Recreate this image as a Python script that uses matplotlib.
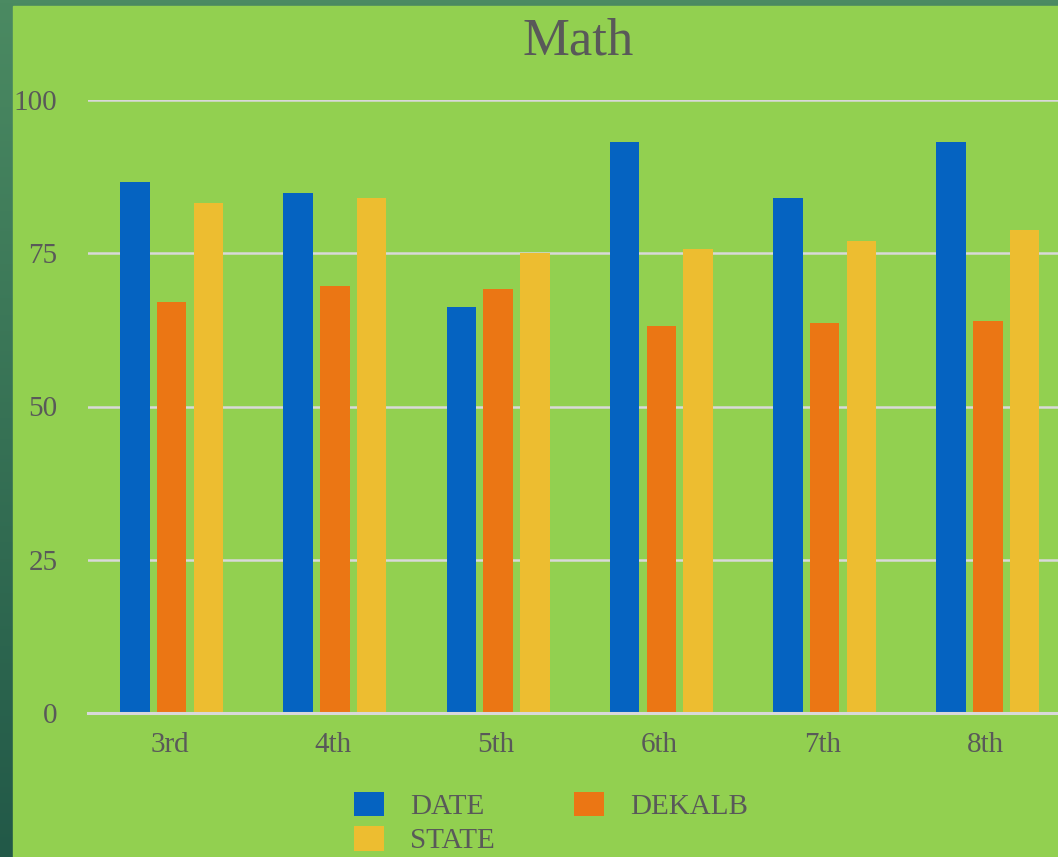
import numpy as np
import matplotlib.pyplot as plt
from matplotlib.patches import Rectangle

grades = ['3rd', '4th', '5th', '6th', '7th', '8th']
date_scores = [86.6, 84.8, 66.2, 93.1, 84.0, 93.1]
dekalb_scores = [67.0, 69.7, 69.2, 63.1, 63.6, 63.9]
state_scores = [83.2, 84.0, 75.0, 75.7, 77.0, 78.8]
series_names = ['DATE', 'DEKALB', 'STATE']
y_ticks = [0, 25, 50, 75, 100]

colors = ['#0563C1', '#EB7614', '#EDBD30']
text_color = '#595959'
grid_color = '#D9D9D9'
panel_color = '#92D050'

plt.rcParams['font.family'] = ['Liberation Serif', 'DejaVu Serif']

W, H = 1058, 857
fig = plt.figure(figsize=(W / 100, H / 100), dpi=100)

# slide background: dark green gradient behind the chart panel
bg = fig.add_axes([0, 0, 1, 1], zorder=-10)
grad = np.linspace(0, 1, 256).reshape(-1, 1)
top = np.array([0x4B, 0x8A, 0x62]) / 255
bottom = np.array([0x22, 0x59, 0x48]) / 255
img = top + (bottom - top) * grad[..., None]
bg.imshow(img, aspect='auto', extent=[0, 1, 0, 1])
bg.add_patch(Rectangle((13 / W, 0), 1, 1 - 6 / H, color=panel_color))
bg.set_xlim(0, 1)
bg.set_ylim(0, 1)
bg.axis('off')

left = 88 / W
right = 1067.5 / W
y0 = 713
y100 = 100
ax = fig.add_axes([left, (H - y0) / H, right - left, (y0 - y100) / H])
ax.set_facecolor('none')

x = np.arange(len(grades))
width = 0.18
offsets = [-0.213, 0.012, 0.237]
for vals, off, c, name in zip([date_scores, dekalb_scores, state_scores],
                              offsets, colors, series_names):
    ax.bar(x + off, vals, width, color=c, label=name, zorder=3)

ax.set_xlim(-0.5, len(grades) - 0.5)
ax.set_ylim(0, 100)
ax.set_yticks(y_ticks)
ax.set_xticks(x)
ax.set_xticklabels(grades)
ax.yaxis.grid(True, color=grid_color, linewidth=1.8, zorder=0)
ax.set_axisbelow(True)
for s in ax.spines.values():
    s.set_visible(False)
ax.axhline(0, color=grid_color, linewidth=2.2, zorder=4, clip_on=False)
ax.tick_params(axis='both', length=0, labelsize=21, labelcolor=text_color)
ax.tick_params(axis='y', pad=22)
ax.tick_params(axis='x', pad=14)

ax.set_title('Math', fontsize=38, color=text_color, pad=33)

h, l = ax.get_legend_handles_labels()
order = [0, 2, 1]
leg = fig.legend([h[i] for i in order], [l[i] for i in order],
                 loc='center', bbox_to_anchor=(551 / W, 1 - 823 / H),
                 ncol=2, frameon=False, fontsize=21, borderpad=0,
                 handlelength=1.03, handleheight=0.93, handletextpad=0.9,
                 columnspacing=2.7, labelspacing=0.2)
for t in leg.get_texts():
    t.set_color(text_color)

plt.savefig('out.png', dpi=100)
